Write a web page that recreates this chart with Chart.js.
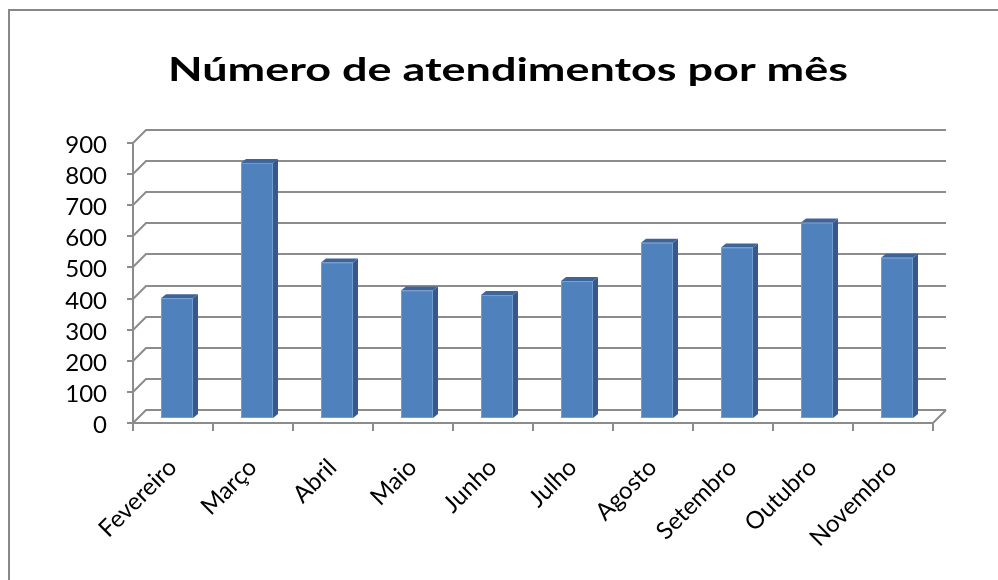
<!DOCTYPE html>
<html lang="pt">
<head>
  <meta charset="UTF-8" />
  <title>Número de atendimentos por mês</title>
  <script src="https://cdn.jsdelivr.net/npm/chart.js"></script>
  <style>
    html, body { margin: 0; padding: 0; background: #fff; }
    canvas { display: block; }
  </style>
</head>
<body>
  <canvas id="chart" width="998" height="580"></canvas>

  <script>
    // dados
    const titulo = 'Número de atendimentos por mês';
    const meses = ['Fevereiro', 'Março', 'Abril', 'Maio', 'Junho', 'Julho', 'Agosto', 'Setembro', 'Outubro', 'Novembro'];
    const atendimentos = [385, 820, 500, 410, 395, 440, 563, 548, 628, 515];
    const yMin = 0;
    const yMax = 900;
    const yStep = 100;

    const GRID = '#8c8c8c';
    const WALL_DX = 13, WALL_DY = -13;   // profundidade da parede do fundo
    const BAR_OX = 4, BAR_OY = -5;       // barras um pouco para dentro
    const BAR_DX = 5, BAR_DY = -4;       // profundidade das barras

    function line(ctx, pts) {
      ctx.beginPath();
      ctx.moveTo(pts[0][0], pts[0][1]);
      for (let i = 1; i < pts.length; i++) ctx.lineTo(pts[i][0], pts[i][1]);
      ctx.stroke();
    }
    function poly(ctx, pts, color) {
      ctx.beginPath();
      ctx.moveTo(pts[0][0], pts[0][1]);
      for (let i = 1; i < pts.length; i++) ctx.lineTo(pts[i][0], pts[i][1]);
      ctx.closePath();
      ctx.fillStyle = color;
      ctx.fill();
    }

    const frame3d = {
      id: 'frame3d',
      beforeDraw(chart) {
        const ctx = chart.ctx;
        ctx.save();
        ctx.fillStyle = '#fff';
        ctx.fillRect(0, 0, chart.width, chart.height);
        ctx.strokeStyle = '#888';
        ctx.lineWidth = 2;
        ctx.strokeRect(9, 10, chart.width + 20, chart.height + 20);
        ctx.restore();
      },
      beforeDatasetsDraw(chart) {
        const { ctx, chartArea: { left, right, top, bottom } } = chart;
        const y = chart.scales.y;
        ctx.save();
        ctx.strokeStyle = GRID;
        ctx.lineWidth = 2;
        y.ticks.forEach(t => {
          const py = Math.round(y.getPixelForValue(t.value));
          line(ctx, [[left, py], [left + WALL_DX, py + WALL_DY], [right + WALL_DX, py + WALL_DY]]);
          line(ctx, [[left - 6, py], [left, py]]);
        });
        // piso
        line(ctx, [[left, bottom], [right, bottom], [right + WALL_DX, bottom + WALL_DY]]);
        // eixo vertical
        line(ctx, [[left, top], [left, bottom + 1]]);
        // marcas do eixo x
        const n = meses.length;
        for (let k = 0; k <= n; k++) {
          const px = Math.round(left + k * (right - left) / n);
          line(ctx, [[px, bottom], [px, bottom + 8]]);
        }
        ctx.restore();
      },
      afterDatasetsDraw(chart) {
        const ctx = chart.ctx;
        const meta = chart.getDatasetMeta(0);
        ctx.save();
        meta.data.forEach(el => {
          const p = el.getProps(['x', 'y', 'base', 'width'], true);
          const x0 = p.x - p.width / 2 + BAR_OX, x1 = p.x + p.width / 2 + BAR_OX;
          const y0 = p.y + BAR_OY, y1 = p.base + BAR_OY;
          poly(ctx, [[x1, y0], [x1 + BAR_DX, y0 + BAR_DY], [x1 + BAR_DX, y1 + BAR_DY], [x1, y1]], '#36598a');
          poly(ctx, [[x0, y0], [x0 + BAR_DX, y0 + BAR_DY], [x1 + BAR_DX, y0 + BAR_DY], [x1, y0]], '#3d659a');
          ctx.fillStyle = '#4f81bd';
          ctx.fillRect(x0, y0, x1 - x0, y1 - y0);
          ctx.strokeStyle = 'rgba(140,175,220,0.6)';
          ctx.lineWidth = 1;
          ctx.strokeRect(x0 + 0.5, y0 + 0.5, x1 - x0 - 1, y1 - y0 - 1);
        });
        ctx.restore();
      },
      afterDraw(chart) {
        const { ctx, chartArea: { bottom } } = chart;
        const x = chart.scales.x, y = chart.scales.y;
        ctx.save();
        ctx.fillStyle = '#000';

        // título (fonte um pouco esticada na horizontal, como no original)
        ctx.font = 'bold 33px Lato';
        ctx.textAlign = 'center';
        ctx.textBaseline = 'alphabetic';
        const w = ctx.measureText(titulo).width;
        ctx.save();
        ctx.translate(508, 81);
        ctx.scale(680 / w, 1);
        ctx.fillText(titulo, 0, 0);
        ctx.restore();

        // rótulos do eixo y
        ctx.font = '24px Lato';
        ctx.textAlign = 'right';
        y.ticks.forEach(t => {
          ctx.fillText(String(t.value), 107, y.getPixelForValue(t.value) + 10);
        });

        // rótulos do eixo x, a 45 graus
        meses.forEach((m, i) => {
          ctx.save();
          ctx.translate(x.getPixelForValue(i) + 5, bottom + 46);
          ctx.rotate(-Math.PI / 4);
          ctx.fillText(m, 0, 0);
          ctx.restore();
        });
        ctx.restore();
      }
    };

    new Chart(document.getElementById('chart').getContext('2d'), {
      type: 'bar',
      data: {
        labels: meses,
        datasets: [{
          label: 'Atendimentos',
          data: atendimentos,
          backgroundColor: 'rgba(0,0,0,0)',
          borderWidth: 0,
          barPercentage: 0.4,
          categoryPercentage: 1
        }]
      },
      options: {
        responsive: false,
        devicePixelRatio: 1,
        animation: false,
        layout: { padding: { left: 0, right: 65, top: 143, bottom: 0 } },
        plugins: {
          legend: { display: false },
          tooltip: { enabled: false },
          title: { display: false }
        },
        scales: {
          x: {
            grid: { display: false },
            border: { display: false },
            ticks: { display: false },
            afterFit: s => { s.height = 157; }
          },
          y: {
            min: yMin,
            max: yMax,
            grid: { display: false },
            border: { display: false },
            ticks: { display: false, stepSize: yStep },
            afterFit: s => { s.width = 133; }
          }
        }
      },
      plugins: [frame3d]
    });
  </script>
</body>
</html>
